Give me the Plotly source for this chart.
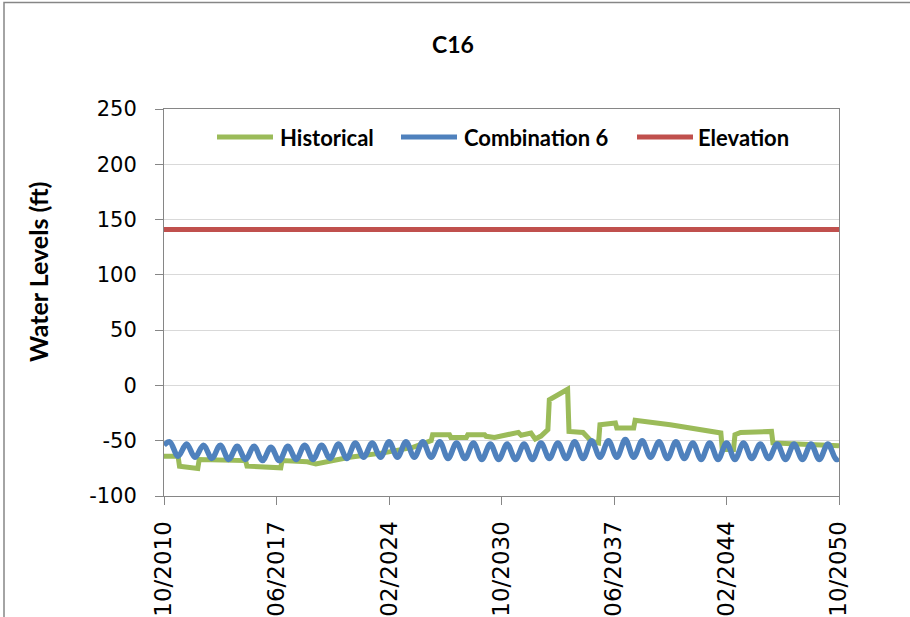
import plotly.graph_objects as go

# ---------------- data ----------------
title_text = "C16"
y_title = "Water Levels (ft)"
series_names = ["Historical", "Combination 6", "Elevation"]
start_date = "2010-10-01"
end_date = "2050-10-01"

# Historical (green): breakpoints
hist_dates = [
    "2010-10", "2011-08", "2011-09", "2012-10", "2012-11", "2015-08", "2015-09",
    "2017-09", "2017-10", "2019-04", "2019-10", "2020-05", "2021-10", "2023-10",
    "2025-07", "2026-08", "2026-09", "2027-09", "2027-10", "2028-09", "2028-10",
    "2029-10", "2029-11", "2030-05", "2031-03", "2031-08", "2031-10", "2031-12",
    "2032-07", "2032-10", "2033-02", "2033-07", "2033-08", "2034-09", "2034-10",
    "2035-08", "2035-11", "2036-02", "2036-07", "2036-08", "2037-07", "2037-08",
    "2038-08", "2038-09", "2040-10", "2043-10", "2043-11", "2044-07", "2044-08",
    "2044-12", "2046-10", "2046-11", "2048-04", "2050-10",
]
hist_values = [
    -64, -64, -73, -75, -67, -68, -73,
    -74.5, -68, -69, -71, -69, -65, -61,
    -56, -50, -44.5, -44.5, -47, -47, -44.6,
    -44.6, -46, -47, -44.5, -43, -42.5, -45,
    -43, -48.5, -45.8, -40, -13, -3.5, -41.6,
    -42.5, -46, -50.6, -52, -35.5, -34, -38.5,
    -38.5, -31.6, -35.5, -43, -58, -58, -44.6,
    -42.5, -41.6, -52, -53, -54.5,
]

# Combination 6 (blue): start value, yearly Feb peaks, yearly Aug troughs, end value
combo_years = list(range(2011, 2051))
combo_start = -54
combo_end = -66
combo_peaks = [
    -51, -53, -54, -54, -55, -55, -56, -55, -54, -54,
    -53, -52, -52, -51, -51, -51, -51, -52, -52, -53,
    -53, -53, -52, -52, -51, -50, -50, -49, -50, -51,
    -51, -52, -52, -52, -52, -53, -53, -53, -53, -53,
]
combo_troughs = [
    -64, -65, -66, -67, -67, -68, -68, -67, -67, -66,
    -66, -65, -65, -65, -65, -65, -66, -66, -67, -67,
    -67, -67, -66, -66, -66, -65, -65, -65, -65, -66,
    -66, -67, -67, -67, -66, -66, -67, -67, -67, -67,
]

# Elevation (red)
elevation = 141

y_ticks = [-100, -50, 0, 50, 100, 150, 200, 250]
y_tick_labels = ["-100", "-50", "0", "50", "100", "150", "200", "250"]

# ---------------- build ----------------
combo_dates = [start_date]
combo_values = [combo_start]
for yr, pk, tr in zip(combo_years, combo_peaks, combo_troughs):
    combo_dates += [f"{yr}-02-01", f"{yr}-08-01"]
    combo_values += [pk, tr]
combo_dates.append(end_date)
combo_values.append(combo_end)

GREEN = "#9BBB59"
BLUE = "#4F81BD"
RED = "#C0504D"
AXIS = "#868686"

fig = go.Figure()
fig.add_trace(go.Scatter(x=hist_dates, y=hist_values, mode="lines", name=series_names[0],
                         line=dict(color=GREEN, width=5), showlegend=False))
fig.add_trace(go.Scatter(x=combo_dates, y=combo_values, mode="lines", name=series_names[1],
                         line=dict(color=BLUE, width=5.5, shape="spline", smoothing=1),
                         showlegend=False))
fig.add_trace(go.Scatter(x=[start_date, end_date], y=[elevation, elevation], mode="lines",
                         name=series_names[2], line=dict(color=RED, width=5), showlegend=False))

L, R, T, B = 164, 71, 109, 121
W, H = 910, 617
pw, ph = W - L - R, H - T - B


def px(xp):
    return (xp - L) / pw


def py(yp):
    return (H - B - yp) / ph


fig.update_layout(
    width=W, height=H,
    margin=dict(l=L, r=R, t=T, b=B, pad=0, autoexpand=False),
    paper_bgcolor="white", plot_bgcolor="white",
    title=dict(text=title_text, x=453 / W, xref="container", y=1 - 45 / H, yref="container",
               xanchor="center", yanchor="middle",
               font=dict(family="Lato", size=23, color="black", weight="bold")),
    xaxis=dict(type="date", range=[start_date, end_date], tick0=start_date, dtick="M80",
               tickformat="%m/%Y", tickangle=-90, showgrid=False, zeroline=False,
               showline=True, linecolor=AXIS, linewidth=1, mirror=True, automargin=False,
               ticks="outside", ticklen=8, tickcolor=AXIS, ticklabelstandoff=7,
               tickfont=dict(family="DejaVu Sans", size=23, color="black")),
    yaxis=dict(range=[-100, 250], tickvals=y_ticks, ticktext=y_tick_labels,
               showgrid=True, gridcolor="#D9D9D9", automargin=False,
               gridwidth=1, zeroline=False, showline=True, linecolor=AXIS, linewidth=1,
               mirror=True, ticks="outside", ticklen=8, tickcolor=AXIS, ticklabelstandoff=14,
               tickfont=dict(family="DejaVu Sans", size=21, color="black")),
    showlegend=False,
)

# y-axis title
fig.add_annotation(text=y_title, xref="paper", yref="paper", x=px(38), y=py(272),
                   textangle=-90, showarrow=False, xanchor="center", yanchor="middle",
                   font=dict(family="Lato", size=25, color="black", weight="bold"))

# custom legend
legend_items = [(series_names[0], GREEN, 217, 273, 278),
                (series_names[1], BLUE, 401, 457, 462),
                (series_names[2], RED, 637, 693, 696)]
ly = py(137)
for name, col, x0, x1, xt in legend_items:
    fig.add_shape(type="line", xref="paper", yref="paper", x0=px(x0), x1=px(x1), y0=ly, y1=ly,
                  line=dict(color=col, width=5))
    fig.add_annotation(text=name, xref="paper", yref="paper", x=px(xt), y=ly, showarrow=False,
                       xanchor="left", yanchor="middle",
                       font=dict(family="Lato", size=22, color="black", weight="bold"))

# outer chart border
fig.add_shape(type="rect", xref="paper", yref="paper", x0=px(4), x1=px(1200), y0=py(900), y1=py(2.5),
              line=dict(color=AXIS, width=1.5), fillcolor="rgba(0,0,0,0)", layer="below")

fig.write_html(
    "out.html",
    config={"displayModeBar": False},
    post_script="document.body.style.margin='0';document.body.style.overflow='hidden';",
)
